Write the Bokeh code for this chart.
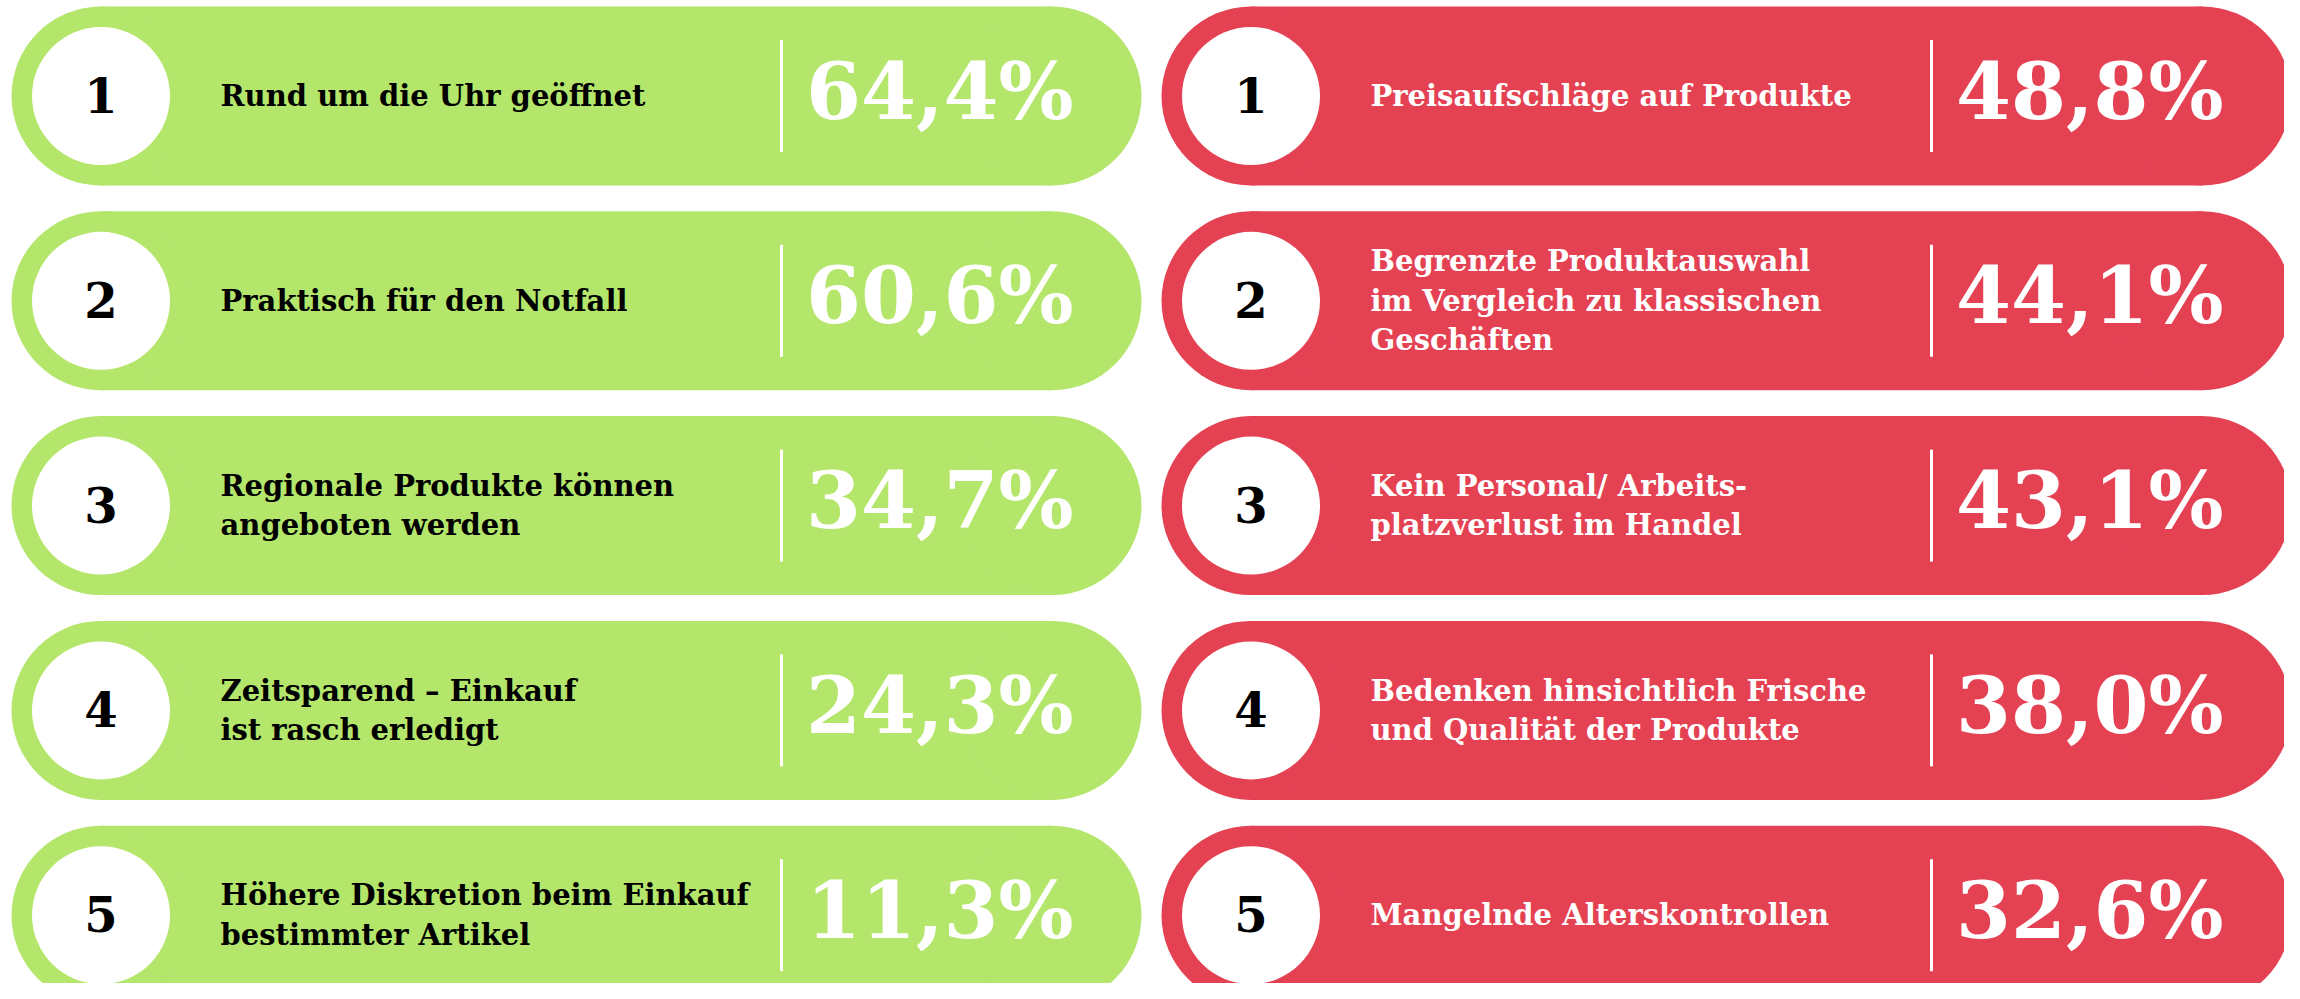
from bokeh.plotting import figure
from bokeh.models import Range1d, ColumnDataSource
from bokeh.core.properties import value
from bokeh.embed import file_html
from bokeh.resources import INLINE

# ---- data ----
ranks = [1, 2, 3, 4, 5]
pro_labels = [
    "Rund um die Uhr geöffnet",
    "Praktisch für den Notfall",
    "Regionale Produkte können\nangeboten werden",
    "Zeitsparend – Einkauf\nist rasch erledigt",
    "Höhere Diskretion beim Einkauf\nbestimmter Artikel",
]
pro_values = [64.4, 60.6, 34.7, 24.3, 11.3]
con_labels = [
    "Preisaufschläge auf Produkte",
    "Begrenzte Produktauswahl\nim Vergleich zu klassischen\nGeschäften",
    "Kein Personal/ Arbeits-\nplatzverlust im Handel",
    "Bedenken hinsichtlich Frische\nund Qualität der Produkte",
    "Mangelnde Alterskontrollen",
]
con_values = [48.8, 44.1, 43.1, 38.0, 32.6]

# ---- layout / style ----
W, H = 2284, 983
GREEN = "#b3e66b"
RED = "#e44253"
FONT = "DejaVu Serif"
PILL_W, PILL_H = 1130, 179
TOP0, PITCH = 6, 204.8
R = PILL_H / 2
CIRCLE_R = 69

p = figure(width=W, height=H, output_backend="svg", toolbar_location=None,
           x_range=Range1d(0, W), y_range=Range1d(H, 0),
           min_border=0)
p.axis.visible = False
p.grid.visible = False
p.outline_line_color = None
p.background_fill_color = "white"
p.border_fill_color = "white"


def fmt(v):
    return f"{v:.1f}".replace(".", ",") + "%"


def column(left, color, labels, values, label_color):
    cy = [TOP0 + i * PITCH + R for i in range(len(labels))]
    lx = left + R
    rx = left + PILL_W - R
    src = ColumnDataSource(dict(
        cy=cy,
        top=[c - R for c in cy],
        bottom=[c + R for c in cy],
        lx=[lx] * len(cy),
        rx=[rx] * len(cy),
        rank=[str(r) for r in ranks],
        rank_y=[c - 1 for c in cy],
        label=labels,
        label_x=[left + 209] * len(cy),
        val=[fmt(v) for v in values],
        val_x=[left + 1062] * len(cy),
        val_y=[c - 5 for c in cy],
        div_x=[left + 770] * len(cy),
        div_top=[c - 56 for c in cy],
        div_bot=[c + 56 for c in cy],
    ))
    p.quad(left="lx", right="rx", top="top", bottom="bottom", source=src,
           fill_color=color, line_color=None)
    p.circle(x="lx", y="cy", radius=R, source=src, fill_color=color, line_color=None)
    p.circle(x="rx", y="cy", radius=R, source=src, fill_color=color, line_color=None)
    p.circle(x="lx", y="cy", radius=CIRCLE_R, source=src, fill_color="white", line_color=None)
    p.text(x="lx", y="rank_y", text="rank", source=src, text_font=value(FONT),
           text_font_style="bold", text_font_size="48px", text_color="black",
           text_align="center", text_baseline="middle")
    p.text(x="label_x", y="cy", text="label", source=src, text_font=value(FONT),
           text_font_style="bold", text_font_size="29px", text_color=label_color,
           text_align="left", text_baseline="middle", text_line_height=1.16)
    p.segment(x0="div_x", y0="div_top", x1="div_x", y1="div_bot", source=src,
              line_color="white", line_width=3)
    p.text(x="val_x", y="val_y", text="val", source=src, text_font=value(FONT),
           text_font_style="bold", text_font_size="79px", text_color="white",
           text_align="right", text_baseline="middle")


column(11, GREEN, pro_labels, pro_values, "black")
column(1161, RED, con_labels, con_values, "white")

open("out.html", "w").write(file_html(p, INLINE))
